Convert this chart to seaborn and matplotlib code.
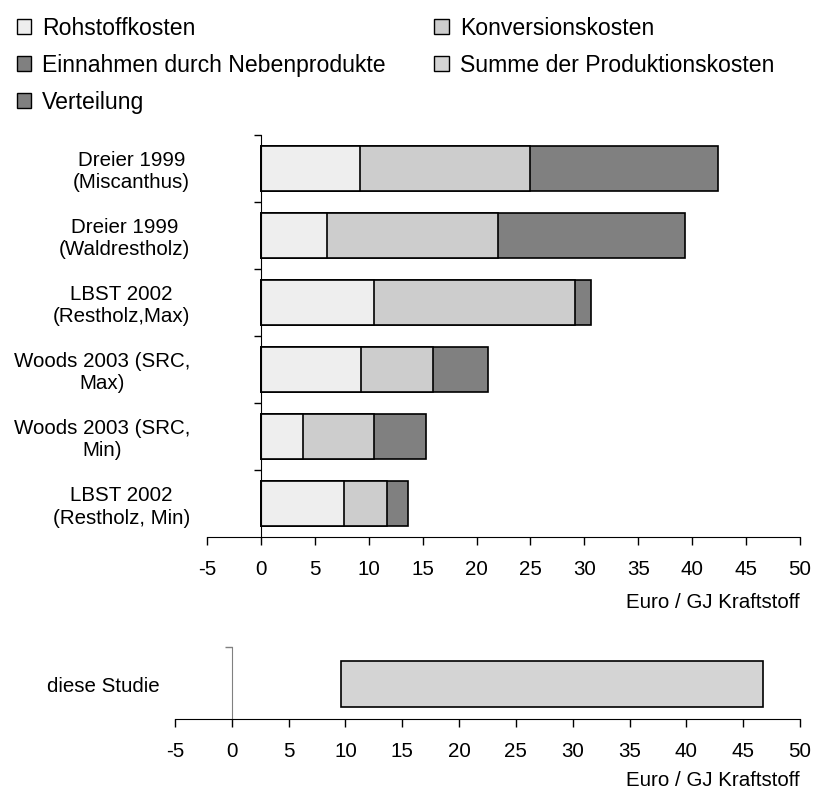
import numpy as np
import pandas as pd
import matplotlib.pyplot as plt
import seaborn as sns
from matplotlib.patches import Patch
from matplotlib.ticker import FixedLocator

# Werte (Euro / GJ Kraftstoff)
studien = ["Dreier 1999\n(Miscanthus)", "Dreier 1999\n(Waldrestholz)", "LBST 2002\n(Restholz,Max)",
           "Woods 2003 (SRC,\nMax)", "Woods 2003 (SRC,\nMin)", "LBST 2002\n(Restholz, Min)"]
rohstoffkosten = [9.2, 6.1, 10.5, 9.3, 3.9, 7.7]
konversionskosten = [15.8, 15.9, 18.6, 6.7, 6.6, 4.0]
einnahmen_nebenprodukte = [0, 0, 0, 0, 0, 0]
verteilung = [17.4, 17.3, 1.5, 5.1, 4.8, 1.9]

studie_label = ["diese Studie"]
studie_min = [9.6]
studie_max = [46.7]

x_ticks = list(range(-5, 51, 5))
achse = "Euro / GJ Kraftstoff"

farben = {
    "Rohstoffkosten": "#eeeeee",
    "Konversionskosten": "#cdcdcd",
    "Einnahmen durch Nebenprodukte": "#808080",
    "Summe der Produktionskosten": "#d4d4d4",
    "Verteilung": "#808080",
}

sns.set_style("ticks")
plt.rcParams["font.family"] = ["Liberation Sans", "DejaVu Sans"]
plt.rcParams["axes.unicode_minus"] = False
for k in ["text.color", "axes.labelcolor", "xtick.color", "ytick.color"]:
    plt.rcParams[k] = "black"
fs = 14.8

df = pd.DataFrame({"studie": studien, "roh": rohstoffkosten, "konv": konversionskosten,
                   "einn": einnahmen_nebenprodukte, "vert": verteilung})
df["stufe1"] = df["roh"]
df["stufe2"] = df["roh"] + df["konv"]
df["stufe3"] = df["stufe2"] + df["einn"] + df["vert"]

fig = plt.figure(figsize=(8.14, 7.91), dpi=100)
ax1 = fig.add_axes([207 / 814, 1 - 537 / 791, 593 / 814, 402 / 791])
ax2 = fig.add_axes([175 / 814, 72 / 791, 625 / 814, 72 / 791])

# gestapelte Balken: Summen zuerst, dann darueber die Teilsummen
kw = dict(orient="h", width=0.68, edgecolor="black", linewidth=1.2, saturation=1, errorbar=None, ax=ax1)
sns.barplot(data=df, x="stufe3", y="studie", color=farben["Verteilung"], **kw)
sns.barplot(data=df, x="stufe2", y="studie", color=farben["Konversionskosten"], **kw)
sns.barplot(data=df, x="stufe1", y="studie", color=farben["Rohstoffkosten"], **kw)

df2 = pd.DataFrame({"studie": studie_label, "spanne": np.subtract(studie_max, studie_min)})
sns.barplot(data=df2, x="spanne", y="studie", orient="h", width=0.68, left=studie_min,
            color=farben["Summe der Produktionskosten"], edgecolor="black", linewidth=1.2,
            saturation=1, errorbar=None, ax=ax2)

for ax, pad, spcol, lp in [(ax1, 51, "black", 10), (ax2, 52, "#808080", 7)]:
    ax.set_xlim(-5, 50)
    ax.set_xticks(x_ticks)
    ax.spines[["top", "right"]].set_visible(False)
    ax.spines["left"].set_position(("data", 0))
    ax.spines["left"].set_color(spcol)
    ax.spines["bottom"].set_color("black")
    ax.tick_params(axis="y", which="major", length=0, pad=pad, labelsize=fs, colors="black")
    ax.tick_params(axis="y", which="minor", length=5, width=1, direction="out", color=spcol)
    ax.tick_params(axis="x", length=6, width=1, pad=10.5, labelsize=fs, color="black")
    ax.set_xlabel(achse, loc="right", fontsize=fs, labelpad=lp)
    ax.set_ylabel("")
    for t in ax.get_yticklabels():
        t.set_multialignment("center")

ax1.set_ylim(5.5, -0.5)
ax1.yaxis.set_minor_locator(FixedLocator(np.arange(-0.5, 5, 1)))
ax2.set_ylim(0.52, -0.55)
ax2.yaxis.set_minor_locator(FixedLocator([-0.55]))

reihenfolge = ["Rohstoffkosten", "Einnahmen durch Nebenprodukte", "Verteilung",
               "Konversionskosten", "Summe der Produktionskosten"]
handles = [Patch(facecolor=farben[n], edgecolor="black", linewidth=1, label=n) for n in reihenfolge]
fig.legend(handles=handles, loc="upper left", bbox_to_anchor=(17 / 814, 1 - 17 / 791), ncol=2,
           frameon=False, fontsize=16.6, handlelength=0.62, handleheight=0.62, handletextpad=0.48,
           labelspacing=0.6, columnspacing=2.1, borderpad=0, borderaxespad=0)

fig.savefig("out.png", dpi=100)
